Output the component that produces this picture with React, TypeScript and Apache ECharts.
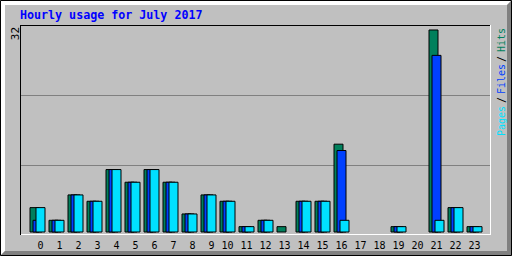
import React, { useEffect, useRef } from "react";
import * as echarts from "echarts";

const title = "Hourly usage for July 2017";
const hours = ["0","1","2","3","4","5","6","7","8","9","10","11","12","13","14","15","16","17","18","19","20","21","22","23"];
const hits = [4, 2, 6, 5, 10, 8, 10, 8, 3, 6, 5, 1, 2, 1, 5, 5, 14, 0, 0, 1, 0, 32, 4, 1];
const files = [2, 2, 6, 5, 10, 8, 10, 8, 3, 6, 5, 1, 2, 0, 5, 5, 13, 0, 0, 1, 0, 28, 4, 1];
const pages = [4, 2, 6, 5, 10, 8, 10, 8, 3, 6, 5, 1, 2, 0, 5, 5, 2, 0, 0, 1, 0, 2, 4, 1];
const maxLabel = "32";

const HIT_C = "#00805c";
const FILE_C = "#0040ff";
const PAGE_C = "#00e0ff";
const MONO = "'DejaVu Sans Mono', 'Liberation Mono', monospace";

export default function App() {
  const ref = useRef<HTMLDivElement>(null);
  useEffect(() => {
    if (!ref.current) return;
    const chart = echarts.init(ref.current, undefined, { renderer: "svg" });
    const nz = (a: number[]) => a.map((v) => (v > 0 ? v : "-"));
    const barBase = {
      type: "bar" as const,
      barWidth: 10,
      barGap: "-70%",
      silent: true,
    };
    chart.setOption({
      animation: false,
      backgroundColor: "#c0c0c0",
      grid: { left: 28, top: 25, width: 456, height: 207.5 },
      xAxis: {
        type: "category",
        data: hours,
        axisLine: { show: false },
        axisTick: { show: false },
        axisLabel: {
          margin: 8,
          interval: 0,
          fontFamily: MONO,
          fontSize: 10,
          color: "#000",
          formatter: (v: string) => `{a|${v}}`,
          rich: { a: { width: 12, align: "right", fontFamily: MONO, fontSize: 10, color: "#000" } },
        },
      },
      yAxis: {
        type: "value",
        min: 0,
        max: 32.709,
        axisLine: { show: false },
        axisTick: { show: false },
        axisLabel: { show: false },
        splitLine: { show: false },
      },
      series: [
        { ...barBase, name: "Hits", data: nz(hits), itemStyle: { color: HIT_C, borderColor: "#000", borderWidth: 1 } },
        { ...barBase, name: "Files", data: nz(files), itemStyle: { color: FILE_C, borderColor: "#000", borderWidth: 1 } },
        { ...barBase, name: "Pages", data: nz(pages), itemStyle: { color: PAGE_C, borderColor: "#000", borderWidth: 1 } },
      ],
      graphic: [
        // grid lines
        { type: "line", z: -1, shape: { x1: 21, y1: 95.5, x2: 490, y2: 95.5 }, style: { stroke: "#808080", lineWidth: 1 } },
        { type: "line", z: -1, shape: { x1: 21, y1: 165.5, x2: 490, y2: 165.5 }, style: { stroke: "#808080", lineWidth: 1 } },
        // plot frame
        { type: "line", z: 50, shape: { x1: 20, y1: 25.5, x2: 490, y2: 25.5 }, style: { stroke: "#000", lineWidth: 1 } },
        { type: "line", z: 50, shape: { x1: 20.5, y1: 25, x2: 20.5, y2: 235 }, style: { stroke: "#000", lineWidth: 1 } },
        { type: "line", z: 50, shape: { x1: 490.5, y1: 25, x2: 490.5, y2: 235 }, style: { stroke: "#fff", lineWidth: 1 } },
        { type: "line", z: 50, shape: { x1: 21, y1: 234.5, x2: 491, y2: 234.5 }, style: { stroke: "#fff", lineWidth: 1 } },
        // bevel
        { type: "polygon", z: 50, shape: { points: [[1, 1], [511, 1], [507, 5], [5, 5], [5, 251], [1, 255]] }, style: { fill: "#fff" } },
        { type: "polygon", z: 51, shape: { points: [[511, 1], [511, 255], [1, 255], [5, 251], [507, 251], [507, 5]] }, style: { fill: "#808080" } },
        { type: "rect", z: 52, shape: { x: 0.5, y: 0.5, width: 511, height: 255 }, style: { fill: "none", stroke: "#000", lineWidth: 1 } },
        // title
        { type: "text", z: 60, x: 20, y: 15, style: { text: title, fill: "#0000ff", font: `bold 11.67px ${MONO}`, align: "left", verticalAlign: "middle" } },
        // y max label
        { type: "text", z: 60, x: 15, y: 33.5, rotation: Math.PI / 2, style: { text: maxLabel, fill: "#000", font: `11px ${MONO}`, align: "center", verticalAlign: "middle" } },
        // right legend
        { type: "text", z: 60, x: 501, y: 40, rotation: Math.PI / 2, style: { text: "Hits", fill: HIT_C, font: `10px ${MONO}`, align: "center", verticalAlign: "middle" } },
        { type: "text", z: 60, x: 501, y: 59, rotation: Math.PI / 2, style: { text: "/", fill: "#000", font: `10px ${MONO}`, align: "center", verticalAlign: "middle" } },
        { type: "text", z: 60, x: 501, y: 79, rotation: Math.PI / 2, style: { text: "Files", fill: FILE_C, font: `10px ${MONO}`, align: "center", verticalAlign: "middle" } },
        { type: "text", z: 60, x: 501, y: 100, rotation: Math.PI / 2, style: { text: "/", fill: "#000", font: `10px ${MONO}`, align: "center", verticalAlign: "middle" } },
        { type: "text", z: 60, x: 501, y: 121, rotation: Math.PI / 2, style: { text: "Pages", fill: PAGE_C, font: `10px ${MONO}`, align: "center", verticalAlign: "middle" } },
      ],
    });
    return () => chart.dispose();
  }, []);
  return (
    <div
      ref={ref}
      style={{ position: "fixed", left: 0, top: 0, width: 512, height: 256, background: "#c0c0c0" }}
    />
  );
}
